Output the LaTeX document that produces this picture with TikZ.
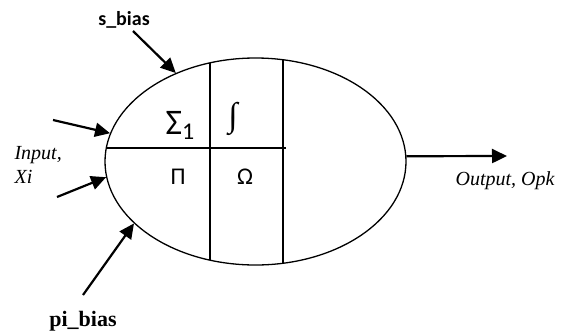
\documentclass[tikz,border=0pt]{standalone}
\usepackage{fontspec}
\setmainfont{Liberation Serif}
\newfontfamily\calfont{Carlito}
\newfontfamily\timesfont{Liberation Serif}
\usepackage{tikz}
\usetikzlibrary{arrows.meta,shapes.geometric}
\definecolor{ink}{HTML}{000000}
\tikzset{
  cellbody/.style={ellipse,draw=ink,line width=1.3pt,minimum width=301pt,
    minimum height=207pt,inner sep=0pt},
  cellline/.style={line width=1.3pt,color=ink},
  sigarr/.style={-{Triangle[length=15pt,width=14pt]},line width=2.2pt,color=ink},
  biaslabel/.style={font=\calfont\bfseries\fontsize{20}{24}\selectfont,text=ink},
  pilabel/.style={font=\timesfont\bfseries\fontsize{22}{26}\selectfont,text=ink},
  iolabel/.style={font=\timesfont\itshape\fontsize{20}{24}\selectfont,align=left,text=ink},
  oplabel/.style={font=\calfont\fontsize{24}{28}\selectfont,text=ink},
}

\begin{document}
\begin{tikzpicture}[x=1pt,y=-1pt]
  \useasboundingbox (0,0) rectangle (571,333);
  \node[cellbody] (cell) at (255.5,161.5) {};
  \draw[cellline] (210,62.9) -- (210,260.1);
  \draw[cellline] (283,59.7) -- (283,263.3);
  \draw[cellline] (106.3,148) -- (286,148);

  \node[oplabel,font=\calfont\fontsize{36}{40}\selectfont] (sum) at (180,125)
    {Σ\raisebox{-5pt}{\fontsize{24}{28}\selectfont 1}};
  \node[oplabel,font=\timesfont\fontsize{34}{40}\selectfont] (integ) at (233,119) {∫};
  \node[oplabel] (prod) at (178,177) {Π};
  \node[oplabel] (omega) at (245,177) {Ω};

  \node[biaslabel] (sbias) at (124,20) {s\_bias};
  \node[pilabel] (pibias) at (83,321) {pi\_bias};
  \node[iolabel,anchor=west] (input) at (11,165) {Input,\\Xi};
  \node[iolabel] (output) at (505,181) {Output, Opk};

  \coordinate (sfrom) at (133,31);
  \coordinate (in1from) at (53,120);
  \coordinate (in2from) at (57,197);
  \coordinate (pifrom) at (83,295);
  \coordinate (outto) at (507,156);

  \draw[sigarr] (sfrom) -- (cell.132);
  \draw[sigarr] (in1from) -- (cell.169);
  \draw[sigarr] (in2from) -- (cell.186);
  \draw[sigarr] (pifrom) -- (cell.207);
  \draw[sigarr] (cell.2) -- (outto);
\end{tikzpicture}
\end{document}
